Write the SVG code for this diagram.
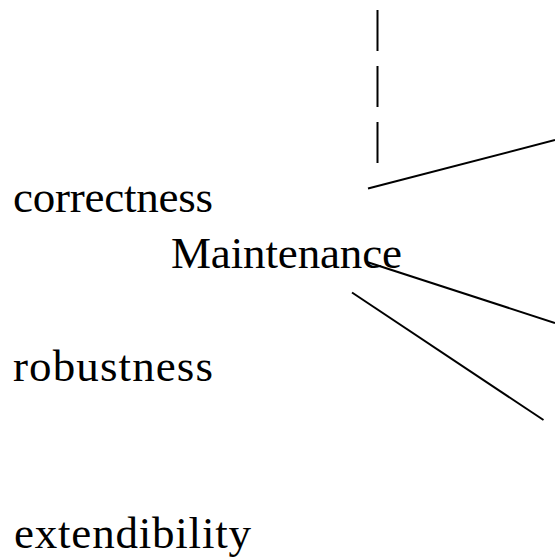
<svg xmlns="http://www.w3.org/2000/svg" width="555" height="557" viewBox="0 0 555 557">
<style>
.t{font-family:"Liberation Serif","Times New Roman",serif;font-size:45px;fill:#000}
.c{stroke:#000;stroke-width:2;fill:none}
</style>
<rect width="555" height="557" fill="#fff"/>
<g id="connectors">
<line class="c" x1="377.5" y1="10" x2="377.5" y2="164" stroke-dasharray="41,15"/>
<line class="c" x1="368" y1="188.5" x2="555" y2="140"/>
<line class="c" x1="367" y1="262" x2="555" y2="323"/>
<line class="c" x1="352" y1="292.5" x2="543.5" y2="420"/>
</g>
<g id="correctness"><text class="t" x="13" y="211.5" textLength="200" lengthAdjust="spacing">correctness</text></g>
<g id="maintenance"><text class="t" x="171" y="267.5" textLength="231" lengthAdjust="spacing">Maintenance</text></g>
<g id="robustness"><text class="t" x="13" y="381" textLength="200" lengthAdjust="spacing">robustness</text></g>
<g id="extendibility"><text class="t" x="14" y="547.5" textLength="237" lengthAdjust="spacing">extendibility</text></g>
</svg>
